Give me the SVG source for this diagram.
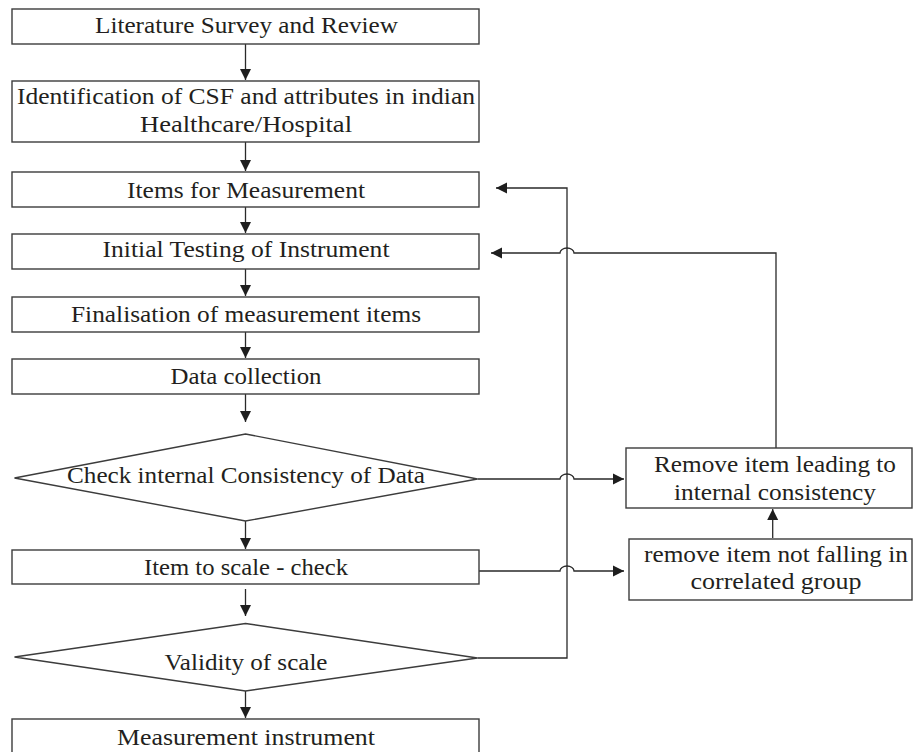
<svg xmlns="http://www.w3.org/2000/svg" width="913" height="752" viewBox="0 0 913 752">
<style>
.n{fill:#fff;stroke:#3c3c3c;stroke-width:1.4}
.t{font-family:"Liberation Serif","Times New Roman",serif;font-size:24px;fill:#231f20;text-anchor:middle}
.c{fill:none;stroke:#2a2a2a;stroke-width:1.3}
</style>
<defs>
<marker id="ah" markerUnits="userSpaceOnUse" markerWidth="12" markerHeight="12" viewBox="0 0 12 12" refX="11" refY="6" orient="auto">
<path d="M0,0.5 L11,6 L0,11.5 Z" fill="#1e1e1e"/>
</marker>
</defs>
<rect width="913" height="752" fill="#fff"/>
<g id="connectors">
<path class="c" d="M245.5,44 V80" marker-end="url(#ah)"/>
<path class="c" d="M245.5,142 V171" marker-end="url(#ah)"/>
<path class="c" d="M245.5,207 V233" marker-end="url(#ah)"/>
<path class="c" d="M245.5,269 V296" marker-end="url(#ah)"/>
<path class="c" d="M245.5,332 V358" marker-end="url(#ah)"/>
<path class="c" d="M245.5,394 V422" marker-end="url(#ah)"/>
<path class="c" d="M245.5,521 V549" marker-end="url(#ah)"/>
<path class="c" d="M245.5,589 V616" marker-end="url(#ah)"/>
<path class="c" d="M245.5,691 V718" marker-end="url(#ah)"/>
<path class="c" d="M477.5,479 H560 A7,5 0 0 1 574,479 H624" marker-end="url(#ah)"/>
<path class="c" d="M479,571 H560 A7,5 0 0 1 574,571 H624" marker-end="url(#ah)"/>
<path class="c" d="M772.7,538 V509" marker-end="url(#ah)"/>
<path class="c" d="M776,448 V253 H574 A7,5 0 0 0 560,253 H491" marker-end="url(#ah)"/>
<path class="c" d="M477.5,658 H567 V188 H496" marker-end="url(#ah)"/>
</g>
<g id="literature">
<rect class="n" x="12" y="9" width="467" height="35"/>
<text class="t" x="246.5" y="33" textLength="303" lengthAdjust="spacingAndGlyphs">Literature Survey and Review</text>
</g>
<g id="identification">
<rect class="n" x="12" y="81" width="467" height="61"/>
<text class="t" x="246" y="104" textLength="458" lengthAdjust="spacingAndGlyphs">Identification of CSF and attributes in indian</text>
<text class="t" x="246" y="132" textLength="212" lengthAdjust="spacingAndGlyphs">Healthcare/Hospital</text>
</g>
<g id="items">
<rect class="n" x="12" y="172" width="467" height="35"/>
<text class="t" x="246" y="198" textLength="238" lengthAdjust="spacingAndGlyphs">Items for Measurement</text>
</g>
<g id="initial">
<rect class="n" x="12" y="234" width="467" height="35"/>
<text class="t" x="246" y="257" textLength="287" lengthAdjust="spacingAndGlyphs">Initial Testing of Instrument</text>
</g>
<g id="finalisation">
<rect class="n" x="12" y="297" width="467" height="35"/>
<text class="t" x="246" y="321.5" textLength="350" lengthAdjust="spacingAndGlyphs">Finalisation of measurement items</text>
</g>
<g id="data">
<rect class="n" x="12" y="359" width="467" height="35"/>
<text class="t" x="246" y="384" textLength="151" lengthAdjust="spacingAndGlyphs">Data collection</text>
</g>
<g id="check">
<polygon class="n" points="245.5,434 477.5,479 245.5,521 14.5,478"/>
<text class="t" x="246" y="483" textLength="358" lengthAdjust="spacingAndGlyphs">Check internal Consistency of Data</text>
</g>
<g id="itemscale">
<rect class="n" x="12" y="550" width="467" height="34"/>
<text class="t" x="246" y="575" textLength="204" lengthAdjust="spacingAndGlyphs">Item to scale - check</text>
</g>
<g id="validity">
<polygon class="n" points="245.5,623.5 477.5,658 245.5,691 14.5,657"/>
<text class="t" x="246" y="670" textLength="163" lengthAdjust="spacingAndGlyphs">Validity of scale</text>
</g>
<g id="measurement">
<rect class="n" x="12" y="719" width="467" height="36"/>
<text class="t" x="246" y="745" textLength="258" lengthAdjust="spacingAndGlyphs">Measurement instrument</text>
</g>
<g id="remove">
<rect class="n" x="626" y="448" width="286" height="60"/>
<text class="t" x="775" y="471.5" textLength="242" lengthAdjust="spacingAndGlyphs">Remove item leading to</text>
<text class="t" x="775" y="499.5" textLength="202" lengthAdjust="spacingAndGlyphs">internal consistency</text>
</g>
<g id="removecorr">
<rect class="n" x="629" y="539" width="283" height="61"/>
<text class="t" x="776" y="561.5" textLength="264" lengthAdjust="spacingAndGlyphs">remove item not falling in</text>
<text class="t" x="776" y="588.5" textLength="171" lengthAdjust="spacingAndGlyphs">correlated group</text>
</g>
</svg>
